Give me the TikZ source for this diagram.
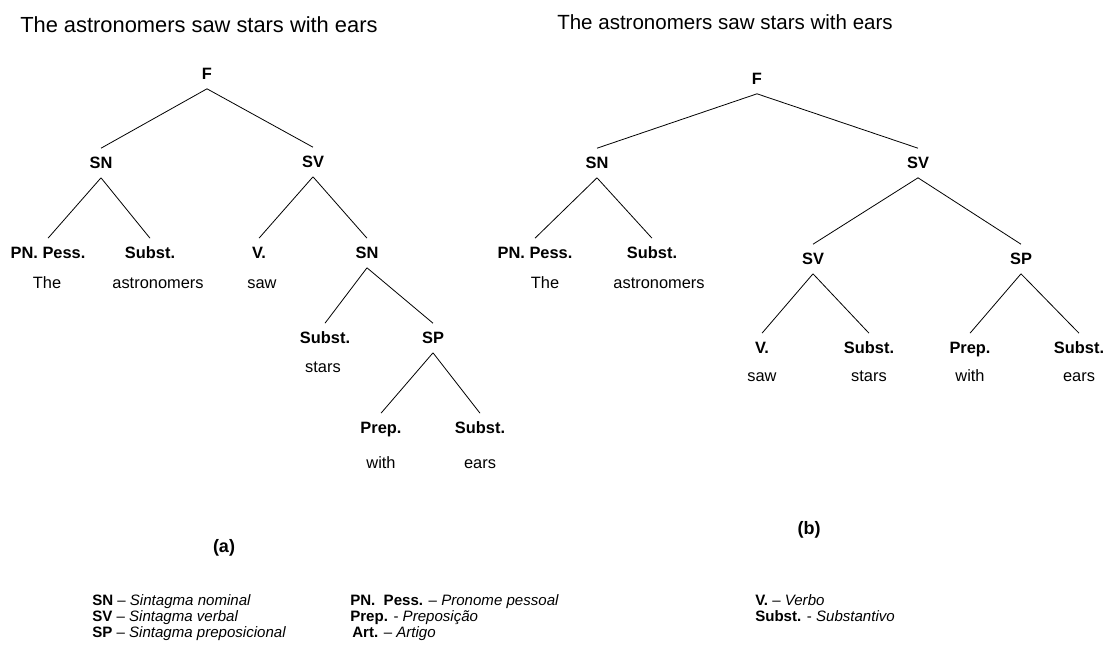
\documentclass[tikz,border=0pt]{standalone}
\usepackage{fontspec}
\setmainfont{Liberation Sans}
\begin{document}
\begin{tikzpicture}[x=0.75pt,y=-0.75pt,
 cat/.style={font=\fontsize{12.3}{14}\selectfont\bfseries, inner xsep=0pt, inner ysep=6.5pt, text height=8.8pt, text depth=0pt},
 word/.style={font=\fontsize{12.3}{14}\selectfont, inner sep=0pt, text height=8.8pt, text depth=0pt},
 edge/.style={line width=0.6pt},
 ttl/.style={font=\fontsize{16.4}{19}\selectfont, anchor=base west, inner sep=0pt},
 lbl/.style={font=\fontsize{13.5}{16}\selectfont\bfseries, inner sep=0pt},
 lg/.style={font=\fontsize{11.3}{13}\selectfont, anchor=base west, inner sep=0pt}]
\useasboundingbox[fill=white] (0,0) rectangle (1104,651);

% ---------- tree (a) ----------
\node[ttl] (ta) at (20,32) {The astronomers saw stars with ears};
\node[cat] (aF) at (207,74) {F};
\node[cat] (aSN) at (101,163) {SN};
\node[cat] (aSV) at (313,162) {SV};
\node[cat] (aPN) at (48,253) {PN. Pess.};
\node[cat] (aSu1) at (150,253) {Subst.};
\node[cat] (aV) at (259,253) {V.};
\node[cat] (aSN2) at (367,253) {SN};
\node[word] (aw1) at (47,283) {The};
\node[word] (aw2) at (158,283) {astronomers};
\node[word] (aw3) at (262,283) {saw};
\node[cat] (aSu2) at (325,338) {Subst.};
\node[cat] (aSP) at (433,338) {SP};
\node[word] (aw4) at (323,367) {stars};
\node[cat] (aPr) at (381,428) {Prep.};
\node[cat] (aSu3) at (480,428) {Subst.};
\node[word] (aw5) at (381,463) {with};
\node[word] (aw6) at (480,463) {ears};
\node[lbl] (la) at (224,548) {(a)};

\draw[edge] (aF.south) -- (aSN.north);
\draw[edge] (aF.south) -- (aSV.north);
\draw[edge] (aSN.south) -- (aPN.north);
\draw[edge] (aSN.south) -- (aSu1.north);
\draw[edge] (aSV.south) -- (aV.north);
\draw[edge] (aSV.south) -- (aSN2.north);
\draw[edge] (aSN2.south) -- (aSu2.north);
\draw[edge] (aSN2.south) -- (aSP.north);
\draw[edge] (aSP.south) -- (aPr.north);
\draw[edge] (aSP.south) -- (aSu3.north);

% ---------- tree (b) ----------
\node[ttl, font=\fontsize{15.4}{18}\selectfont] (tb) at (557,29) {The astronomers saw stars with ears};
\node[cat] (bF) at (757,79) {F};
\node[cat] (bSN) at (597,163) {SN};
\node[cat] (bSV) at (918,163) {SV};
\node[cat] (bPN) at (535,253) {PN. Pess.};
\node[cat] (bSu1) at (652,253) {Subst.};
\node[word] (bw1) at (545,283) {The};
\node[word] (bw2) at (659,283) {astronomers};
\node[cat] (bSV2) at (813,259) {SV};
\node[cat] (bSP) at (1021,259) {SP};
\node[cat] (bV) at (762,348) {V.};
\node[cat] (bSu2) at (869,348) {Subst.};
\node[cat] (bPr) at (970,348) {Prep.};
\node[cat] (bSu3) at (1079,348) {Subst.};
\node[word] (bw3) at (762,376) {saw};
\node[word] (bw4) at (869,376) {stars};
\node[word] (bw5) at (970,376) {with};
\node[word] (bw6) at (1079,376) {ears};
\node[lbl] (lb) at (809,530) {(b)};

\draw[edge] (bF.south) -- (bSN.north);
\draw[edge] (bF.south) -- (bSV.north);
\draw[edge] (bSN.south) -- (bPN.north);
\draw[edge] (bSN.south) -- (bSu1.north);
\draw[edge] (bSV.south) -- (bSV2.north);
\draw[edge] (bSV.south) -- (bSP.north);
\draw[edge] (bSV2.south) -- (bV.north);
\draw[edge] (bSV2.south) -- (bSu2.north);
\draw[edge] (bSP.south) -- (bPr.north);
\draw[edge] (bSP.south) -- (bSu3.north);

% ---------- legend ----------
\node[lg] (l1) at (92,605) {\textbf{SN} -- \textit{Sintagma nominal}};
\node[lg] (l2) at (92,621) {\textbf{SV} -- \textit{Sintagma verbal}};
\node[lg] (l3) at (92,637) {\textbf{SP} -- \textit{Sintagma preposicional}};
\node[lg] (l4) at (350,605) {\textbf{PN.\ \ Pess.} -- \textit{Pronome pessoal}};
\node[lg] (l5) at (350,621) {\textbf{Prep.} - \textit{Preposição}};
\node[lg] (l6) at (352,637) {\textbf{Art.} -- \textit{Artigo}};
\node[lg] (l7) at (755,605) {\textbf{V.} -- \textit{Verbo}};
\node[lg] (l8) at (755,621) {\textbf{Subst.} - \textit{Substantivo}};
\end{tikzpicture}
\end{document}
